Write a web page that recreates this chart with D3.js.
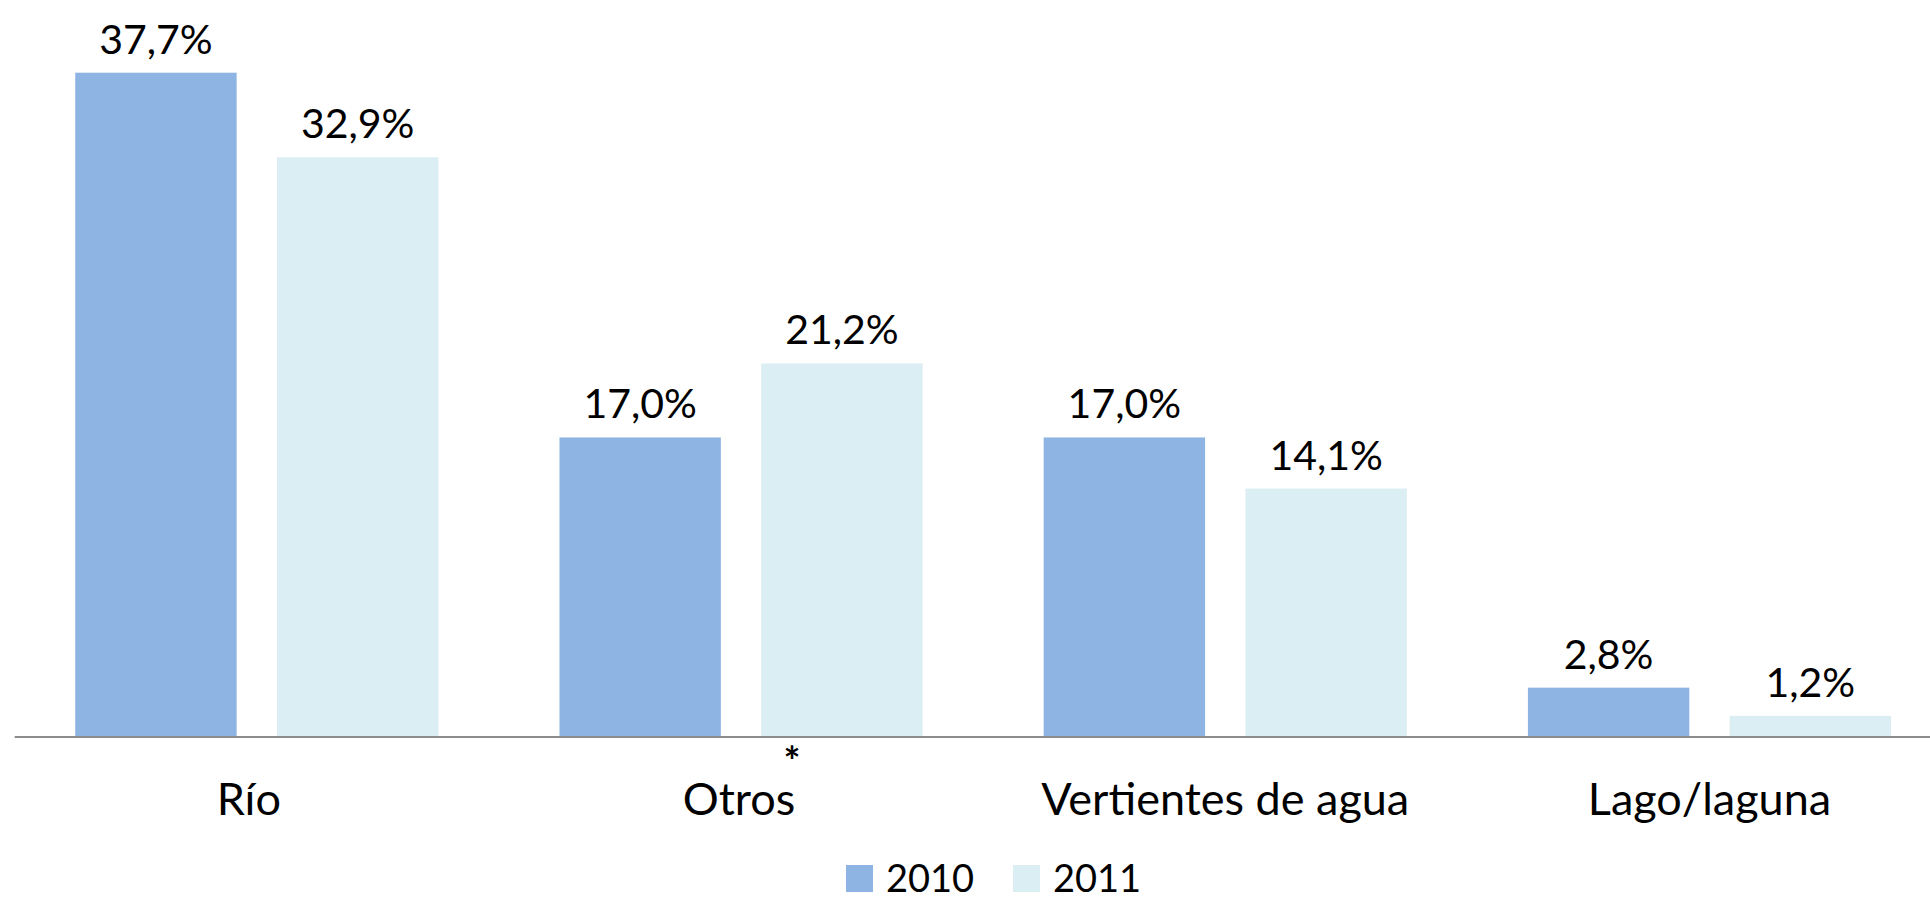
<!DOCTYPE html>
<html>
<head>
<meta charset="utf-8">
<script src="https://cdn.jsdelivr.net/npm/d3@7"></script>
<style>
  body { margin: 0; background: #fff; }
  svg text { font-family: Lato, "Open Sans", sans-serif; fill: #000; }
</style>
</head>
<body>
<div id="chart"></div>
<script>
const categories = ["Río", "Otros", "Vertientes de agua", "Lago/laguna"];
const series = ["2010", "2011"];
const values2010 = [37.7, 17.0, 17.0, 2.8];
const values2011 = [32.9, 21.2, 14.1, 1.2];
const colors = ["#8EB4E3", "#DBEEF4"];

const width = 1930, height = 897;
const baseY = 737;

function drawChart(containerId = "chart") {
    const svg = d3.select(`#${containerId}`).append("svg")
        .attr("width", width)
        .attr("height", height);

    const rows = categories.map((c, i) => ({ cat: c, vals: [values2010[i], values2011[i]] }));

    const x0 = d3.scaleBand().domain(categories).range([14.7, 1951.6]);
    const x1 = d3.scaleBand().domain(series).range([0, x0.bandwidth()])
        .paddingInner(0.2).paddingOuter(0.3);
    const y = d3.scaleLinear().domain([0, 37.7]).range([baseY, 72.7]);
    const fmt = v => d3.format(".1f")(v).replace(".", ",") + "%";

    const groups = svg.selectAll("g.grp")
        .data(rows)
        .enter()
        .append("g")
        .attr("class", "grp")
        .attr("transform", d => `translate(${x0(d.cat)},0)`);

    groups.selectAll("rect")
        .data(d => d.vals.map((v, j) => ({ s: series[j], v: v, j: j })))
        .enter()
        .append("rect")
        .attr("x", d => x1(d.s))
        .attr("y", d => y(d.v))
        .attr("width", x1.bandwidth())
        .attr("height", d => baseY - y(d.v))
        .attr("fill", d => colors[d.j]);

    groups.selectAll("text.val")
        .data(d => d.vals.map((v, j) => ({ s: series[j], v: v })))
        .enter()
        .append("text")
        .attr("class", "val")
        .attr("x", d => x1(d.s) + x1.bandwidth() / 2)
        .attr("y", d => y(d.v) - 19)
        .attr("text-anchor", "middle")
        .style("font-size", "41px")
        .text(d => fmt(d.v));

    // axis line
    svg.append("line")
        .attr("x1", 14.7).attr("x2", width)
        .attr("y1", baseY).attr("y2", baseY)
        .attr("stroke", "#8c8c8c")
        .attr("stroke-width", 2);

    // category labels (first two sit a little left of centre in the original)
    const labelShift = [-8, -2, 0, 0];
    svg.selectAll("text.cat")
        .data(categories)
        .enter()
        .append("text")
        .attr("class", "cat")
        .attr("x", (d, i) => x0(d) + x0.bandwidth() / 2 + labelShift[i])
        .attr("y", 815)
        .attr("text-anchor", "middle")
        .style("font-size", "45px")
        .text(d => d);

    // asterisk note under "Otros"
    svg.append("text")
        .attr("x", x0("Otros") + x0.bandwidth() / 2 + 51)
        .attr("y", 776)
        .attr("text-anchor", "middle")
        .style("font-size", "40px")
        .style("font-weight", "bold")
        .text("*");

    // legend
    const legend = svg.selectAll("g.leg")
        .data(series)
        .enter()
        .append("g")
        .attr("class", "leg")
        .attr("transform", (d, i) => `translate(${846 + i * 167},865)`);
    legend.append("rect")
        .attr("width", 27).attr("height", 27)
        .attr("fill", (d, i) => colors[i]);
    legend.append("text")
        .attr("x", 40).attr("y", 27)
        .style("font-size", "38px")
        .text(d => d);
}

document.addEventListener('DOMContentLoaded', () => {
    drawChart();
});
</script>
</body>
</html>
